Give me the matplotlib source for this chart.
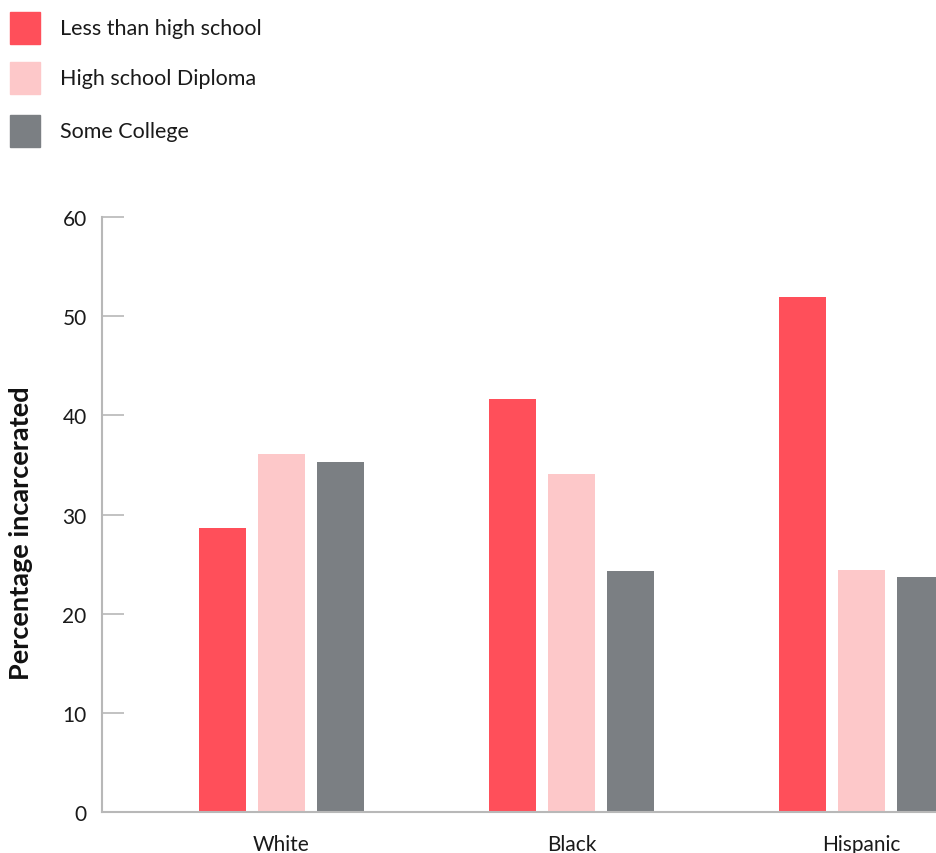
import numpy as np
import matplotlib.pyplot as plt
from matplotlib.patches import Rectangle

plt.rcParams['font.family'] = ['Lato', 'DejaVu Sans']

groups = ['White', 'Black', 'Hispanic']
series = ['Less than high school', 'High school Diploma', 'Some College']
less_hs = [28.6, 41.6, 51.9]
hs_diploma = [36.1, 34.1, 24.4]
some_college = [35.3, 24.3, 23.7]
colors = ['#ff4f5a', '#fdc8c9', '#7b7f83']

W, H = 936, 854
fig = plt.figure(figsize=(W / 100, H / 100), dpi=100)
ax = fig.add_axes([102 / W, 41 / H, 1 - 102 / W, 595 / H])

x = np.arange(len(groups))
w = 0.162
step = 0.2035
for i, (vals, c) in enumerate(zip([less_hs, hs_diploma, some_college], colors)):
    ax.bar(x + (i - 1) * step, vals, width=w, color=c, label=series[i])

# px 102..936 -> data
ax.set_xlim((102 - 281.5) / 290, (936 - 281.5) / 290)
ax.set_ylim(0, 60)
ax.set_yticks([0, 10, 20, 30, 40, 50, 60])
ax.set_xticks(x)
ax.set_xticklabels(groups)

for s in ['top', 'right']:
    ax.spines[s].set_visible(False)
for s in ['left', 'bottom']:
    ax.spines[s].set_color('#b8b8b8')
    ax.spines[s].set_linewidth(1.5)

ax.tick_params(axis='y', direction='in', length=16, width=1.2, color='#b8b8b8',
               labelsize=15, pad=11, labelcolor='#1a1a1a')
ax.tick_params(axis='x', length=0, labelsize=15, pad=16, labelcolor='#1a1a1a')

fig.text(21 / W, 1 - 533 / H, 'Percentage incarcerated', rotation=90,
         fontsize=19.5, fontweight='bold', ha='center', va='center', color='#111111')

# legend swatches, top-left
rows_y = [29, 79, 132]
for label, c, yc in zip(series, colors, rows_y):
    fig.add_artist(Rectangle((10 / W, 1 - (yc + 16) / H), 30 / W, 32 / H,
                             transform=fig.transFigure, color=c))
    fig.text(60 / W, 1 - yc / H, label, fontsize=15.5, va='center', ha='left',
             color='#1a1a1a')

fig.savefig('out.png', dpi=100)
